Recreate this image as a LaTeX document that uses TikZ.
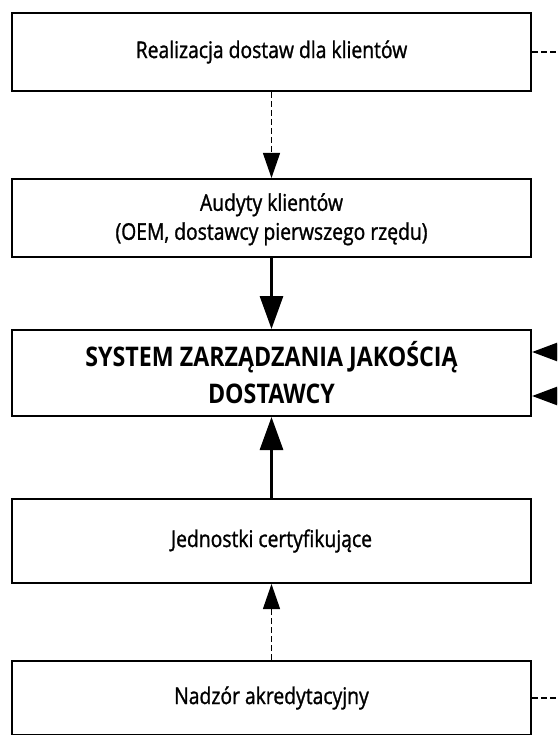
\documentclass[tikz,border=0pt]{standalone}
\usepackage{fontspec}
\setmainfont{Open Sans}[FakeStretch=0.84]
\newfontfamily\boxfont{Open Sans}[FakeStretch=0.84, FakeBold=1.2]
\newfontfamily\titlefont{Open Sans Bold}[FakeStretch=0.86]
\usetikzlibrary{arrows.meta}
\begin{document}
\begin{tikzpicture}[x=1pt,y=-1pt,
  box/.style={draw, line width=2pt, minimum width=519pt, inner sep=0pt,
    anchor=north, align=center, font=\boxfont\fontsize{23}{29}\selectfont},
  dashline/.style={line width=1.2pt, dash pattern=on 6pt off 3pt},
  solidline/.style={line width=3pt},
  bigtip/.style={-{Triangle[width=23pt,length=33pt]}},
  smalltip/.style={-{Triangle[width=17pt,length=25pt]}},
  sidetip/.style={-{Triangle[width=20pt,length=28pt]}}]
\useasboundingbox (0,0) rectangle (557,735);
\clip (0,0) rectangle (557,735);

% boxes, top to bottom
\node[box, minimum height=78pt] (real) at (271.5,12) {Realizacja dostaw dla klientów};
\node[box, minimum height=78pt, text depth=3pt] (aud) at (271.5,178)
  {Audyty klientów\\(OEM, dostawcy pierwszego rzędu)};
\node[box, minimum height=86pt, font=\titlefont\fontsize{27}{37}\selectfont] (sys) at (271.5,329)
  {SYSTEM ZARZĄDZANIA JAKOŚCIĄ\\DOSTAWCY};
\node[box, minimum height=84pt] (cert) at (271.5,498) {Jednostki certyfikujące};
\node[box, minimum height=74pt] (nadz) at (271.5,660) {Nadzór akredytacyjny};

% vertical connectors
\draw[dashline, smalltip] (real.south) -- (aud.north);
\draw[solidline, bigtip] (aud.south) -- (sys.north);
\draw[solidline, bigtip] (cert.north) -- (sys.south);
\draw[dashline, smalltip] (nadz.north) -- (cert.south);

% links leaving to the right
\coordinate (ra) at (585,352);
\coordinate (rb) at (585,396);
\coordinate (edge) at (560,0);
\draw[solidline, sidetip] (ra) -- (ra -| sys.east);
\draw[solidline, sidetip] (rb) -- (rb -| sys.east);
\draw[dashline] (real.east) -- (real.east -| edge);
\draw[dashline] (nadz.east) -- (nadz.east -| edge);
\end{tikzpicture}
\end{document}
